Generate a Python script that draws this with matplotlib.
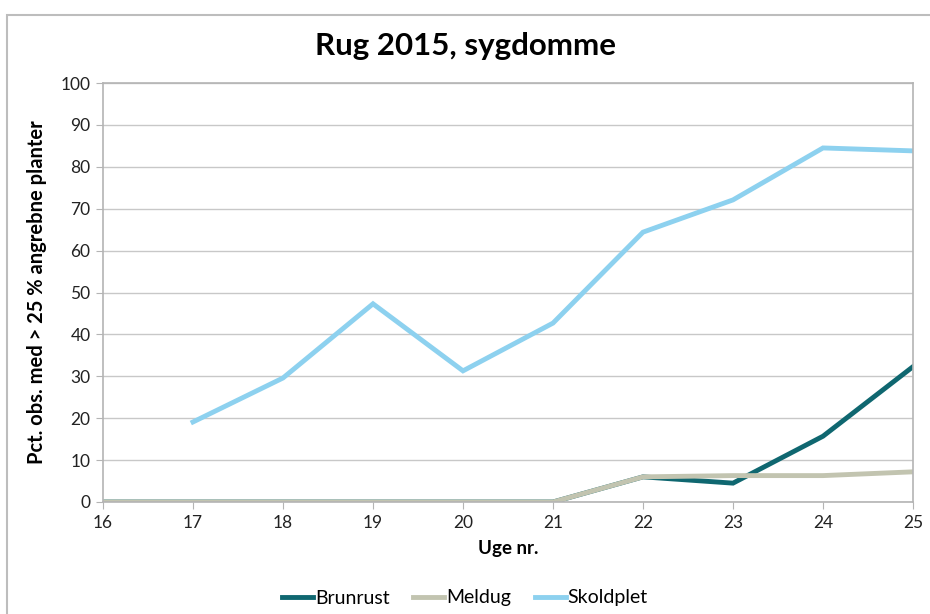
import matplotlib.pyplot as plt
from matplotlib.patches import Rectangle

weeks = [16, 17, 18, 19, 20, 21, 22, 23, 24, 25]
brunrust = [0, 0, 0, 0, 0, 0, 6, 4.5, 15.7, 32.3]
meldug = [0, 0, 0, 0, 0, 0, 6, 6.3, 6.3, 7.2]
skoldplet_weeks = [17, 18, 19, 20, 21, 22, 23, 24, 25]
skoldplet = [19.1, 29.6, 47.3, 31.3, 42.7, 64.4, 72.1, 84.5, 83.8]

plt.rcParams['font.family'] = ['Lato', 'DejaVu Sans']

fig = plt.figure(figsize=(9.3, 6.14), dpi=100)
ax = fig.add_axes([103 / 930, 1 - 502 / 614, 810 / 930, 419 / 614])

# outer chart frame
fig.patches.append(Rectangle((7 / 930, -0.05), 1.0, 1 - 15 / 614 + 0.05,
                             transform=fig.transFigure, fill=False,
                             edgecolor='#bdbdbd', linewidth=1.5))

ax.plot(weeks, brunrust, color='#0f6770', linewidth=3.5, label='Brunrust', solid_joinstyle='miter')
ax.plot(weeks, meldug, color='#c2c4b0', linewidth=3.5, label='Meldug', solid_joinstyle='miter')
ax.plot(skoldplet_weeks, skoldplet, color='#8dd1ef', linewidth=3.5, label='Skoldplet', solid_joinstyle='miter')

ax.set_xlim(16, 25)
ax.set_ylim(0, 100)
ax.set_xticks(weeks)
ax.set_yticks(range(0, 101, 10))
ax.grid(axis='y', color='#c8c8c8', linewidth=1)
ax.set_axisbelow(True)
for s in ax.spines.values():
    s.set_color('#b4b4b4')
    s.set_linewidth(1.2)
ax.tick_params(direction='out', length=5, color='#b4b4b4', labelsize=12.5,
               labelcolor='#222222', pad=4)

ax.set_xlabel('Uge nr.', fontsize=13.5, fontweight='bold', labelpad=7)
ax.set_ylabel('Pct. obs. med > 25 % angrebne planter', fontsize=14.5,
              fontweight='bold', labelpad=10)
fig.text(0.5, 1 - 46 / 614, 'Rug 2015, sygdomme', ha='center', va='center',
         fontsize=22.5, fontweight='bold')

fig.legend(loc='center', bbox_to_anchor=(0.5, 1 - 598 / 614), ncol=3, frameon=False,
           fontsize=14, handlelength=1.6, handletextpad=0.1, columnspacing=1.2)

plt.savefig('out.png')
